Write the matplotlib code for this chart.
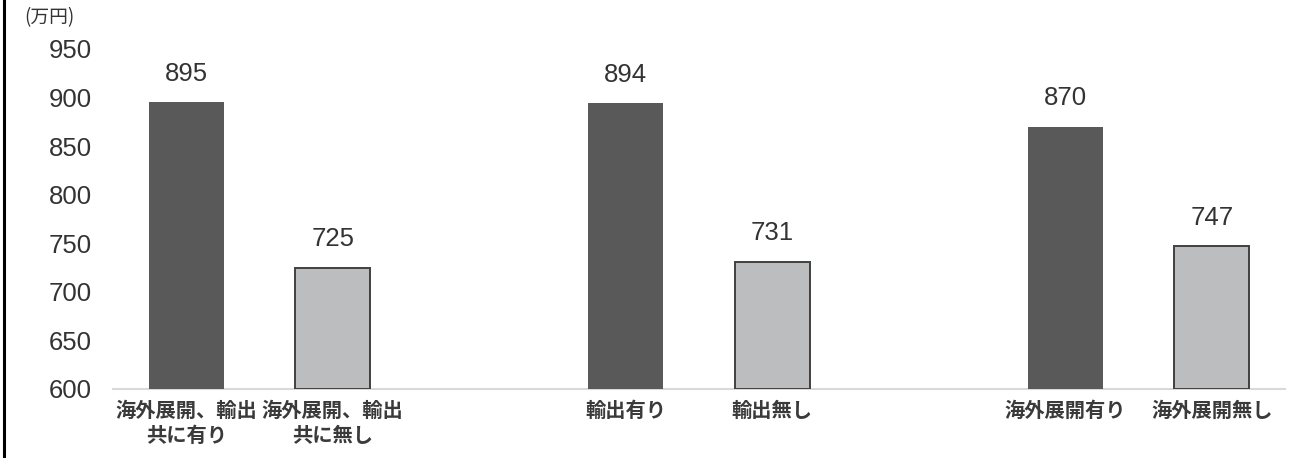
import matplotlib
matplotlib.use("Agg")
import matplotlib.pyplot as plt
from matplotlib.lines import Line2D

plt.rcParams['font.family'] = ['Liberation Sans', 'Noto Sans CJK JP', 'DejaVu Sans']

# average annual salary by overseas activity (10k yen)
categories = ['海外展開、輸出\n共に有り', '海外展開、輸出\n共に無し',
              '輸出有り', '輸出無し',
              '海外展開有り', '海外展開無し']
salary = [895, 725, 894, 731, 870, 747]
positions = [0, 1, 3, 4, 6, 7]
has_activity = [True, False, True, False, True, False]
yticks = [600, 650, 700, 750, 800, 850, 900, 950]

fig = plt.figure(figsize=(13.09, 4.58), dpi=100)
ax = fig.add_axes([113 / 1309, 1 - 389 / 458, (1285 - 113) / 1309, (389 - 49) / 458])

text_color = '#333333'
for x, v, on in zip(positions, salary, has_activity):
    if on:
        ax.bar(x, v - 600, bottom=600, width=0.51, color='#595959', edgecolor='none')
    else:
        ax.bar(x, v - 600, bottom=600, width=0.51, color='#bcbdbf',
               edgecolor='#404040', linewidth=1.4)
    ax.text(x, v + 17, f'{v}', ha='center', va='bottom', fontsize=18.5,
            color=text_color)

ax.set_xlim(-0.5, 7.5)
ax.set_ylim(600, 950)
ax.set_yticks(yticks)
ax.set_yticklabels([str(t) for t in yticks], fontsize=18.5, color=text_color)
ax.set_xticks(positions)
ax.set_xticklabels(categories, fontsize=14.6, color='#3a3a3a',
                   family=['Noto Sans CJK JP', 'DejaVu Sans'], fontweight='bold',
                   linespacing=1.25)
ax.tick_params(axis='both', length=0)
ax.tick_params(axis='y', pad=15)
ax.tick_params(axis='x', pad=8)
for side in ['top', 'right', 'left']:
    ax.spines[side].set_visible(False)
ax.spines['bottom'].set_color('#d9d9d9')
ax.spines['bottom'].set_linewidth(1.5)
ax.spines['bottom'].set_zorder(0)

fig.text(24 / 1309, 1 - 18 / 458, '(万円)', fontsize=13.5, color=text_color,
         va='center', ha='left', family=['Noto Sans CJK JP', 'DejaVu Sans'])

# frame line on the left edge
fig.add_artist(Line2D([3.5 / 1309, 3.5 / 1309], [0, 1], transform=fig.transFigure,
                      color='black', linewidth=2.2))

fig.savefig('out.png', dpi=100)
